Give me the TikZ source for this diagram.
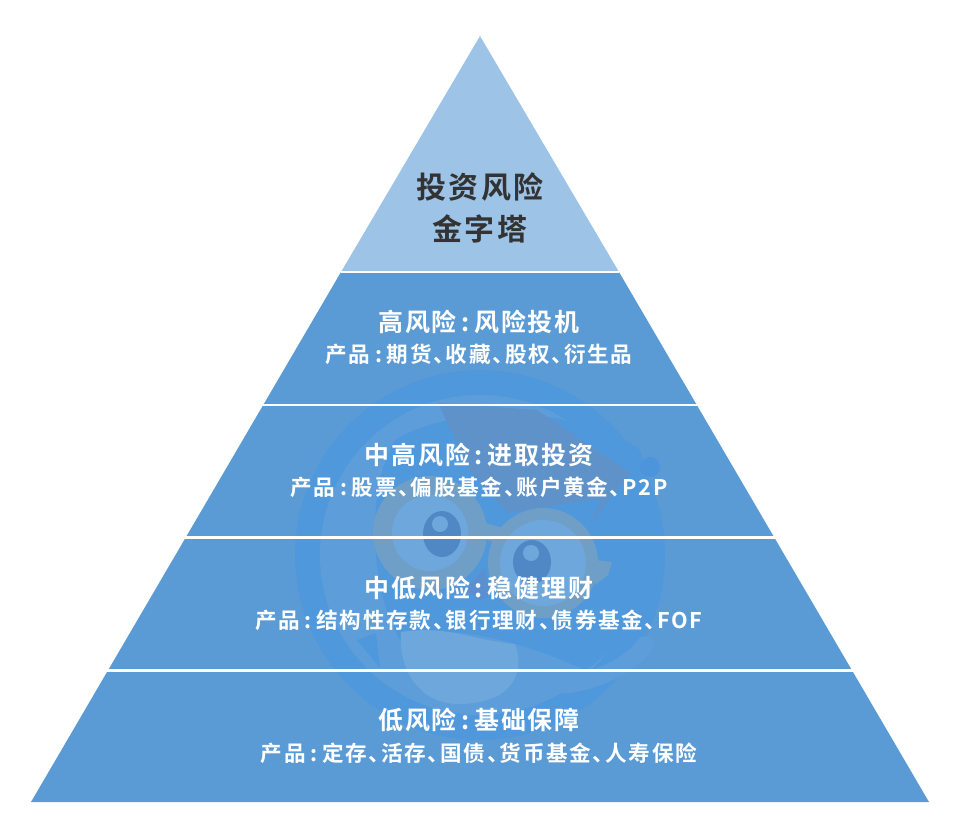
\documentclass[tikz,border=0pt]{standalone}
\usepackage{fontspec}
\setmainfont{Noto Sans CJK SC}[BoldFont={Noto Sans CJK SC Bold},RawFeature={+palt}]
\definecolor{bandblue}{HTML}{5B9BD5}
\definecolor{topblue}{HTML}{9DC3E6}
\definecolor{ringblue}{HTML}{5098DC}
\definecolor{dotblue}{HTML}{4C94DC}
\definecolor{discblue}{HTML}{5D9DD9}
\definecolor{lobeblue}{HTML}{6DA7DC}
\definecolor{capblue}{HTML}{5F92C8}
\definecolor{glassgrey}{HTML}{6F9FC6}
\definecolor{eyeblue}{HTML}{4F88C4}
\definecolor{beakblue}{HTML}{5B8FD0}
\newcommand{\colonmark}{\hspace{3.5pt}:\hspace{3.5pt}}
\tikzset{
    headtext/.style={text=white, font=\fontsize{18.7}{18.7}\selectfont\bfseries\addfontfeature{LetterSpace=7.5}},
    subtext/.style={text=white, font=\fontsize{16.2}{16.2}\selectfont\bfseries\addfontfeature{LetterSpace=8}},
    toptext/.style={text=black!80, align=center, font=\fontsize{22.5}{31.5}\selectfont\bfseries\addfontfeature{LetterSpace=8}}
}
\begin{document}
\begin{tikzpicture}[x=0.75pt, y=-0.75pt]
    \useasboundingbox (0, 0) rectangle (960, 839);
    % pyramid
    \fill [topblue] (480, 36) -- (619, 272) -- (341, 272) -- cycle;
    \fill [bandblue] (341, 272) -- (619, 272) -- (929, 802) -- (31, 802) -- cycle;
    % mascot behind the text
    \begin{scope}
    \clip (480, 36) -- (929, 802) -- (31, 802) -- cycle;
    \fill [ringblue] (480, 555) circle (185);
    \fill [discblue] (480, 555) circle (160);
    % head
    \fill [ringblue] (395, 440) .. controls (460, 400) and (590, 410) .. (640, 450)
        .. controls (665, 520) and (640, 640) .. (585, 670)
        .. controls (520, 640) and (440, 620) .. (400, 640)
        .. controls (370, 590) and (365, 490) .. (395, 440);
    % belly and wings
    \fill [lobeblue] (401, 632) .. controls (450, 625) and (470, 640) .. (515, 644)
        .. controls (525, 670) and (515, 703) .. (460, 704)
        .. controls (420, 705) and (398, 670) .. (401, 632);
    \fill [ringblue] (357, 640) -- (376, 633) -- (380, 668) -- cycle;
    \draw [discblue, line width=13pt, line cap=round] (565, 685) .. controls (600, 680) and (630, 665) .. (645, 645);
    % mortar board
    \fill [capblue] (438, 403) -- (537, 410) -- (630, 473) -- (590, 524) -- (602, 498)
        -- (508, 513) -- (470, 470) -- cycle;
    \fill [dotblue] (650, 467) circle (10);
    % glasses
    \fill [glassgrey] (430, 533) circle (57);
    \fill [glassgrey] (543, 563) circle (55);
    \fill [glassgrey] (475, 520) -- (510, 530) -- (505, 545) -- (470, 535) -- cycle;
    \fill [glassgrey] (595, 560) -- (612, 562) -- (608, 575) -- (595, 585) -- cycle;
    \fill [lobeblue] (430, 533) circle (38);
    \fill [lobeblue] (543, 563) circle (43);
    % eyes
    \fill [eyeblue] (442, 534) ellipse (19 and 23);
    \fill [eyeblue] (532, 562) ellipse (19 and 22);
    \fill [lobeblue] (440, 524) circle (8);
    \fill [lobeblue] (531, 553) circle (8);
    % beak
    \fill [beakblue] (465, 590) -- (485, 568) -- (490, 595) -- (480, 600) -- cycle;
    \end{scope}
    % white gaps
    \draw [white, line width=2.2pt] (341, 272) to (619, 272);
    \draw [white, line width=2.2pt] (263, 405) to (697, 405);
    \draw [white, line width=2.2pt] (185, 537.5) to (775, 537.5);
    \draw [white, line width=2.2pt] (107, 670.5) to (853, 670.5);
    % labels
    \node [toptext] (top) at (480, 207.5) {投资风险\\金字塔};
    \node [headtext] (high) at (479, 322) {高风险\colonmark 风险投机};
    \node [subtext] (highsub) at (479, 354) {产品\colonmark 期货、收藏、股权、衍生品};
    \node [headtext] (midhigh) at (479, 455) {中高风险\colonmark 进取投资};
    \node [subtext] (midhighsub) at (479, 487) {产品\colonmark 股票、偏股基金、账户黄金、P2P};
    \node [headtext] (midlow) at (479, 588) {中低风险\colonmark 稳健理财};
    \node [subtext] (midlowsub) at (479, 620) {产品\colonmark 结构性存款、银行理财、债券基金、FOF};
    \node [headtext] (low) at (479, 720) {低风险\colonmark 基础保障};
    \node [subtext] (lowsub) at (479, 753) {产品\colonmark 定存、活存、国债、货币基金、人寿保险};
\end{tikzpicture}
\end{document}
